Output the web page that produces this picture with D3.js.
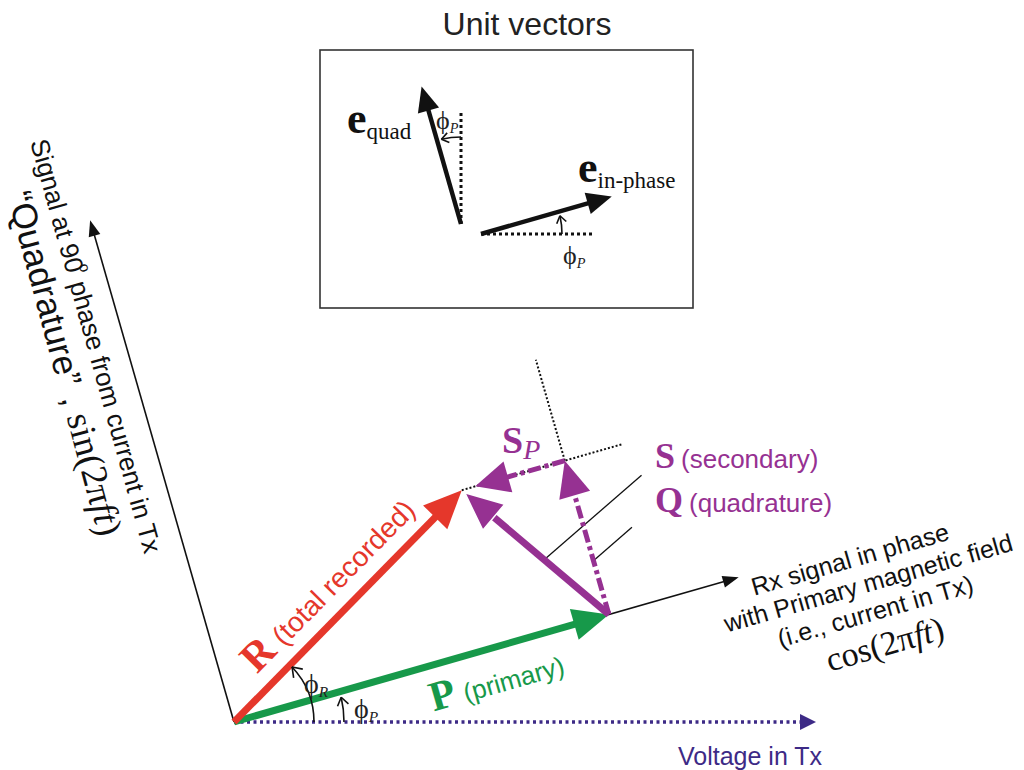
<!DOCTYPE html>
<html>
<head>
<meta charset="utf-8">
<script src="https://cdn.jsdelivr.net/npm/d3@7"></script>
<style>body{margin:0;background:#fff}</style>
</head>
<body>
<svg width="1024" height="770"></svg>
<script>
// phasor values: angles in degrees from Tx voltage, lengths in diagram units
const vectorNames = ["P", "R"];
const vectorAngles = [16, 45.5];
const vectorLengths = [390, 325];
const axisNames = ["voltage", "inPhase", "quadrature"];
const axisAngles = [0, 16, 106];
const axisLengths = [582, 525, 522];
const unitNames = ["in-phase", "quad"];
const unitAngles = [16, 106];
const unitLengths = [136, 143];

const svg = d3.select("svg");
const red = "#e5372b", green = "#17994a", purple = "#963192", navy = "#3d2a86";
const sans = "'Liberation Sans', Arial, sans-serif";
const serif = "'Liberation Serif', 'Times New Roman', serif";
const rad = Math.PI / 180;

// diagram units -> pixels, origin at the Tx reference
const x = d3.scaleLinear().domain([0, 100]).range([234, 334]);
const y = d3.scaleLinear().domain([0, 100]).range([722, 622]);
// unit vector box
const bx = d3.scaleLinear().domain([0, 100]).range([481, 581]);
const by = d3.scaleLinear().domain([0, 100]).range([234, 134]);

const pol = (len, deg) => [len * Math.cos(deg * rad), len * Math.sin(deg * rad)];
const add = (a, b, k = 1) => [a[0] + k * b[0], a[1] + k * b[1]];
const dot = (a, b) => a[0] * b[0] + a[1] * b[1];
const px = p => [x(p[0]), y(p[1])];

// filled arrow between pixel points
function arrow(g, p0, p1, o) {
  const dx = p1[0] - p0[0], dy = p1[1] - p0[1], L = Math.hypot(dx, dy);
  const ux = dx / L, uy = dy / L;
  const bxp = p1[0] - ux * o.hl, byp = p1[1] - uy * o.hl;
  g.append("line")
    .attr("x1", p0[0]).attr("y1", p0[1])
    .attr("x2", p1[0] - ux * o.hl * 0.6).attr("y2", p1[1] - uy * o.hl * 0.6)
    .attr("stroke", o.color).attr("stroke-width", o.w)
    .attr("stroke-dasharray", o.dash || null);
  g.append("polygon")
    .attr("points", [[p1[0], p1[1]], [bxp - uy * o.hw, byp + ux * o.hw], [bxp + uy * o.hw, byp - ux * o.hw]].join(" "))
    .attr("fill", o.color)
    .attr("stroke", o.outline || "none").attr("stroke-width", o.outline ? 1.5 : 0);
}

// angle arc with open arrowhead, angles measured anticlockwise
function arcArrow(g, c, r, a0, a1, size) {
  const p = d3.path();
  p.arc(c[0], c[1], r, -a0 * rad, -a1 * rad, true);
  g.append("path").attr("d", p.toString()).attr("fill", "none").attr("stroke", "#111").attr("stroke-width", 1.6);
  const e = [c[0] + r * Math.cos(a1 * rad), c[1] - r * Math.sin(a1 * rad)];
  const t = [-Math.sin(a1 * rad), -Math.cos(a1 * rad)];
  const n = [-t[1], t[0]];
  [1, -1].forEach(s => {
    g.append("line")
      .attr("x1", e[0]).attr("y1", e[1])
      .attr("x2", e[0] - t[0] * size + s * n[0] * size * 0.7)
      .attr("y2", e[1] - t[1] * size + s * n[1] * size * 0.7)
      .attr("stroke", "#111").attr("stroke-width", 1.6);
  });
}

function phiLabel(g, px0, py0, sub, size, color) {
  const t = g.append("text").attr("x", px0).attr("y", py0).attr("fill", color || "#222");
  t.append("tspan").attr("font-family", serif).attr("font-size", size).text("\u03D5");
  t.append("tspan").attr("font-family", serif).attr("font-style", "italic")
    .attr("font-size", size * 0.55).attr("dy", size * 0.15).text(sub);
}

const O = [0, 0];
const Pv = pol(vectorLengths[0], vectorAngles[0]);
const Rv = pol(vectorLengths[1], vectorAngles[1]);
const Sv = add(Rv, Pv, -1);
const eI = pol(1, axisAngles[1]), eQ = pol(1, axisAngles[2]);
const sI = dot(Sv, eI), sQ = dot(Sv, eQ);
const corner = add(Pv, eQ, sQ);

const g = svg.append("g");

// Tx voltage reference
arrow(g, px(O), px(pol(axisLengths[0], axisAngles[0])), {color: navy, w: 3.5, hl: 16, hw: 8, dash: "3,3.5"});
// receiver axes
arrow(g, px(O), px(pol(axisLengths[1], axisAngles[1])), {color: "#111", w: 1.6, hl: 16, hw: 6});
arrow(g, px(O), px(pol(axisLengths[2], axisAngles[2])), {color: "#111", w: 1.6, hl: 16, hw: 6});

// projection guides
g.append("line").attr("x1", x(corner[0])).attr("y1", y(corner[1]))
  .attr("x2", x(add(corner, eQ, 105)[0])).attr("y2", y(add(corner, eQ, 105)[1]))
  .attr("stroke", "#111").attr("stroke-width", 2).attr("stroke-dasharray", "2,2");
g.append("line").attr("x1", x(Rv[0])).attr("y1", y(Rv[1]))
  .attr("x2", x(add(corner, eI, 60)[0])).attr("y2", y(add(corner, eI, 60)[1]))
  .attr("stroke", "#111").attr("stroke-width", 2).attr("stroke-dasharray", "2,2");

// leader lines to S and Q labels
const lead = pol(1, 41);
const sA = add(Pv, Sv, 0.44), qA = add(Pv, eQ, sQ * 0.35);
[[sA, 129], [qA, 51]].forEach(([a, len]) => {
  const b = add(a, lead, len);
  g.append("line").attr("x1", x(a[0])).attr("y1", y(a[1])).attr("x2", x(b[0])).attr("y2", y(b[1]))
    .attr("stroke", "#111").attr("stroke-width", 1.3);
});

// vectors
arrow(g, px(O), px(Pv), {color: green, w: 7, hl: 36, hw: 16});
arrow(g, px(O), px(Rv), {color: red, w: 7, hl: 38, hw: 17});
arrow(g, px(corner), px(add(corner, eI, sI + 14)), {color: purple, w: 5, hl: 34, hw: 16, dash: "13,4,4,4"});
arrow(g, px(Pv), px(corner), {color: purple, w: 5, hl: 36, hw: 16, dash: "13,4,4,4"});
arrow(g, px(Pv), px(add(Rv, Sv, -0.02)), {color: purple, w: 7, hl: 38, hw: 17, outline: "#fff"});

// angle arcs
arcArrow(g, px(O), 80, 0, vectorAngles[1] - 2, 9);
arcArrow(g, px(O), 110, 0, vectorAngles[0] - 3, 8);
phiLabel(g, 304, 693, "R", 28);
phiLabel(g, 354, 718, "P", 28);

// rotated vector labels
const rl = g.append("g").attr("transform", `translate(${x(0)},${y(0)}) rotate(${-vectorAngles[1]})`);
const rt = rl.append("text").attr("x", 50).attr("y", -17).attr("fill", red);
rt.append("tspan").attr("font-family", serif).attr("font-weight", "bold").attr("font-size", 42).text("R");
rt.append("tspan").attr("font-family", sans).attr("font-size", 28).attr("dx", 8).text("(total recorded)");

const pl = g.append("g").attr("transform", `translate(${x(0)},${y(0)}) rotate(${-vectorAngles[0]})`);
const pt = pl.append("text").attr("x", 195).attr("y", 45).attr("fill", green);
pt.append("tspan").attr("font-family", serif).attr("font-weight", "bold").attr("font-size", 42).text("P");
pt.append("tspan").attr("font-family", sans).attr("font-size", 26).attr("dx", 8).text("(primary)");

// in-phase axis caption
const rxLines = ["Rx signal in phase", "with Primary magnetic field", "(i.e., current in Tx)"];
const rxPos = [[637, 22], [648, 50], [647, 79]];
const rxg = g.append("g").attr("transform", `translate(${x(0)},${y(0)}) rotate(${-axisAngles[1]})`);
rxLines.forEach((s, i) => rxg.append("text").attr("x", rxPos[i][0]).attr("y", rxPos[i][1])
  .attr("text-anchor", "middle").attr("font-family", sans).attr("font-size", 25).attr("fill", "#111").text(s));
const cosT = rxg.append("text").attr("x", 647).attr("y", 116).attr("text-anchor", "middle")
  .attr("font-family", serif).attr("font-size", 34).attr("fill", "#111");
cosT.append("tspan").text("cos(2\u03C0");
cosT.append("tspan").attr("font-style", "italic").text("ft");
cosT.append("tspan").text(")");

// quadrature axis caption
const q1 = g.append("text").attr("transform", "translate(96,346) rotate(74.5)")
  .attr("text-anchor", "middle").attr("dominant-baseline", "central")
  .attr("font-family", sans).attr("font-size", 26).attr("fill", "#111");
q1.append("tspan").text("Signal at 90");
q1.append("tspan").attr("font-size", 15).attr("dy", -11).attr("dx", -6).text("o");
q1.append("tspan").attr("dy", 11).text(" phase from current in Tx");
const q2 = g.append("text").attr("transform", "translate(7,195) rotate(75)").attr("fill", "#111");
q2.append("tspan").attr("font-family", sans).attr("font-size", 35).text("\u201CQuadrature\u201D , ");
q2.append("tspan").attr("font-family", serif).attr("font-size", 37).text("sin(2\u03C0");
q2.append("tspan").attr("font-family", serif).attr("font-size", 37).attr("font-style", "italic").text("ft");
q2.append("tspan").attr("font-family", serif).attr("font-size", 37).text(")");

// S, Q and S_P labels
[["S", "(secondary)", 468], ["Q", "(quadrature)", 512]].forEach(([b, s, yy]) => {
  const t = g.append("text").attr("x", 655).attr("y", yy).attr("fill", purple);
  t.append("tspan").attr("font-family", serif).attr("font-weight", "bold").attr("font-size", 36).text(b);
  t.append("tspan").attr("font-family", sans).attr("font-size", 26).attr("dx", 6).text(s);
});
const sp = g.append("text").attr("x", 502).attr("y", 453).attr("fill", purple);
sp.append("tspan").attr("font-family", serif).attr("font-weight", "bold").attr("font-size", 38).text("S");
sp.append("tspan").attr("font-family", serif).attr("font-style", "italic").attr("font-size", 28).attr("dy", 6).text("P");

g.append("text").attr("x", 678).attr("y", 765).attr("font-family", sans).attr("font-size", 25)
  .attr("fill", navy).text("Voltage in Tx");

// unit vectors inset
svg.append("text").attr("x", 527).attr("y", 35).attr("text-anchor", "middle")
  .attr("font-family", sans).attr("font-size", 32).attr("fill", "#222").text("Unit vectors");
svg.append("rect").attr("x", 320).attr("y", 50).attr("width", 373).attr("height", 258)
  .attr("fill", "none").attr("stroke", "#333").attr("stroke-width", 1.6);

const ub = svg.append("g");
const uOrig = [[0, 0], [-20, 10]];
const uRef = [0, 90];
unitNames.forEach((n, i) => {
  const o = uOrig[i];
  const ref = add(o, pol(1, uRef[i]), 111);
  ub.append("line").attr("x1", bx(o[0])).attr("y1", by(o[1])).attr("x2", bx(ref[0])).attr("y2", by(ref[1]))
    .attr("stroke", "#111").attr("stroke-width", 3).attr("stroke-dasharray", "3,3");
  const t = add(o, pol(unitLengths[i], unitAngles[i]));
  arrow(ub, [bx(o[0]), by(o[1])], [bx(t[0]), by(t[1])], {color: "#111", w: 4.5, hl: 25, hw: 11});
  arcArrow(ub, [bx(o[0]), by(o[1])], i === 0 ? 81 : 87, uRef[i], uRef[i] + 13, 7);
});
phiLabel(ub, 563, 264, "P", 26);
phiLabel(ub, 436, 129, "P", 26);

[["quad", 347, 133, 139], ["in-phase", 578, 182, 188]].forEach(([s, xx, yy, ys]) => {
  const t = ub.append("text").attr("x", xx).attr("y", yy).attr("fill", "#111").attr("font-family", serif);
  t.append("tspan").attr("font-weight", "bold").attr("font-size", 44).text("e");
  t.append("tspan").attr("font-size", 23).attr("dy", ys - yy).text(s);
});
</script>
</body>
</html>
